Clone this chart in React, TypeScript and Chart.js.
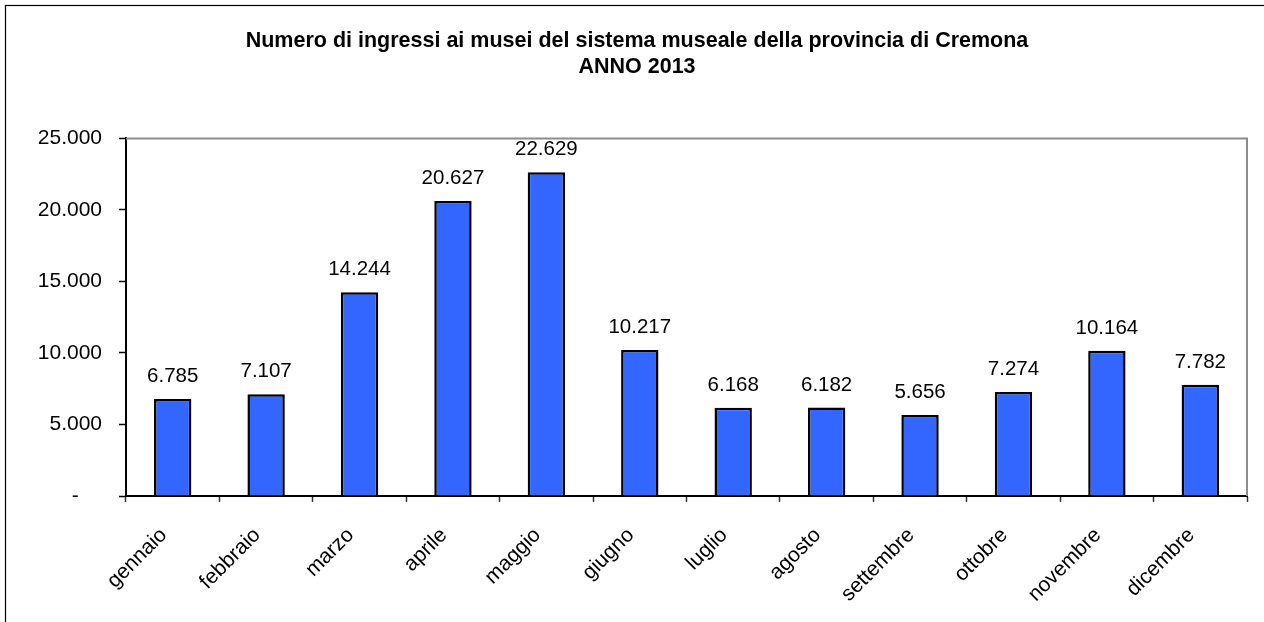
import React, { useEffect, useRef } from "react";
import { Chart, registerables } from "chart.js";

Chart.register(...registerables);

const titleLines = [
  "Numero di ingressi ai musei del sistema museale della provincia di Cremona",
  "ANNO 2013",
];
const months = [
  "gennaio", "febbraio", "marzo", "aprile", "maggio", "giugno",
  "luglio", "agosto", "settembre", "ottobre", "novembre", "dicembre",
];
const visitors = [6785, 7107, 14244, 20627, 22629, 10217, 6168, 6182, 5656, 7274, 10164, 7782];
const yMin = 0;
const yMax = 25000;
const yStep = 5000;

const FONT = "'Liberation Sans', Arial, Helvetica, sans-serif";

const fmt = (v: number) =>
  String(Math.round(v)).replace(/\B(?=(\d{3})+(?!\d))/g, ".");

const framePlugin = {
  id: "frame",
  afterDraw(chart: any) {
    const { ctx, chartArea } = chart;
    ctx.save();
    ctx.strokeStyle = "#000";
    ctx.lineWidth = 1.2;
    ctx.strokeRect(5.5, 5.5, 1400, 800);
    ctx.strokeStyle = "#8c8c8c";
    ctx.lineWidth = 2;
    ctx.beginPath();
    ctx.moveTo(chartArea.left, chartArea.top);
    ctx.lineTo(chartArea.right, chartArea.top);
    ctx.lineTo(chartArea.right, chartArea.bottom);
    ctx.stroke();
    ctx.restore();
  },
};

const valueLabels = {
  id: "valueLabels",
  afterDatasetsDraw(chart: any) {
    const { ctx } = chart;
    const meta = chart.getDatasetMeta(0);
    ctx.save();
    ctx.font = `20.5px ${FONT}`;
    ctx.fillStyle = "#000";
    ctx.textAlign = "center";
    ctx.textBaseline = "alphabetic";
    meta.data.forEach((bar: any, i: number) => {
      ctx.fillText(fmt(visitors[i]), bar.x, bar.y - 17);
    });
    ctx.restore();
  },
};

export default function App() {
  const ref = useRef<HTMLCanvasElement | null>(null);

  useEffect(() => {
    document.body.style.margin = "0";
    const canvas = ref.current!;
    const chart = new Chart(canvas, {
      type: "bar",
      data: {
        labels: months,
        datasets: [
          {
            data: visitors,
            backgroundColor: "#3366FF",
            borderColor: "#000000",
            borderWidth: 2.5,
            borderSkipped: "bottom",
            barPercentage: 0.4,
            categoryPercentage: 1.0,
          },
        ],
      },
      options: {
        responsive: false,
        animation: false,
        layout: { padding: { left: 27, right: 17, top: 0, bottom: 0 } },
        plugins: {
          legend: { display: false },
          tooltip: { enabled: false },
          title: {
            display: true,
            text: titleLines,
            color: "#000",
            font: { family: FONT, size: 21.5, weight: "bold", lineHeight: 1.22 },
            padding: { top: 28, bottom: 58 },
          },
        },
        scales: {
          x: {
            grid: {
              display: true,
              drawOnChartArea: false,
              drawTicks: true,
              tickLength: 6,
              tickColor: "#333",
              tickWidth: 1.5,
              offset: true,
            },
            border: { display: true, color: "#000", width: 2 },
            ticks: {
              autoSkip: false,
              minRotation: 45,
              maxRotation: 45,
              padding: 21,
              labelOffset: -9,
              color: "#000",
              font: { family: FONT, size: 21 },
            },
            afterFit(scale: any) {
              scale.height = 126;
            },
          },
          y: {
            min: yMin,
            max: yMax,
            grid: {
              display: true,
              drawOnChartArea: false,
              drawTicks: true,
              tickLength: 7,
              tickColor: "#000",
              tickWidth: 1.5,
            },
            border: { display: true, color: "#000", width: 2 },
            ticks: {
              stepSize: yStep,
              padding: 17,
              color: "#000",
              font: { family: FONT, size: 21 },
              callback: (v: any) => (Number(v) === 0 ? "-    " : fmt(Number(v))),
            },
            afterFit(scale: any) {
              scale.width = 99;
            },
          },
        },
      },
      plugins: [framePlugin, valueLabels],
    });
    return () => chart.destroy();
  }, []);

  return (
    <div style={{ width: 1264, height: 622, background: "#fff" }}>
      <canvas ref={ref} width={1264} height={622} style={{ display: "block" }} />
    </div>
  );
}
